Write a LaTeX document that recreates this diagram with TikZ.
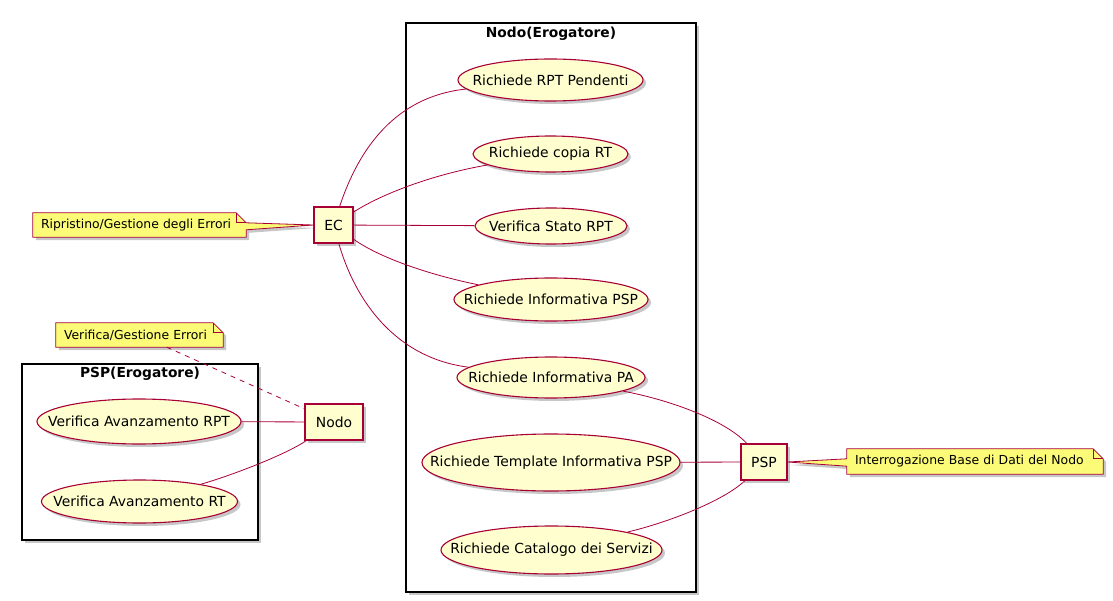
\documentclass[tikz,border=0pt]{standalone}
\usepackage{fontspec}
\setmainfont{DejaVu Sans}
\usetikzlibrary{shapes.geometric,shadows,backgrounds}
\definecolor{umlred}{HTML}{A80036}
\definecolor{umlfill}{HTML}{FEFECE}
\definecolor{notefill}{HTML}{FBFB77}
\newcommand\ucfont{\fontsize{13.9}{16}\selectfont}
\newcommand\notefont{\fontsize{12.4}{15}\selectfont}
\newcommand\pkgfont{\fontsize{13.8}{16}\selectfont\bfseries}
\newcommand\uctext[1]{\makebox[0pt][c]{#1}}
\begin{document}
\begin{tikzpicture}[x=1pt,y=-1pt,
  shad/.style={drop shadow={shadow xshift=3pt,shadow yshift=-3pt,fill=black,opacity=0.22}},
  package/.style={rectangle,draw=black,line width=1.3pt,fill=white,inner sep=0pt,shad},
  pkgtitle/.style={inner sep=0pt,font=\pkgfont},
  usecase/.style={ellipse,draw=umlred,fill=umlfill,line width=1.1pt,inner sep=0pt,font=\ucfont,shad},
  actorbox/.style={rectangle,draw=umlred,fill=umlfill,line width=1.1pt,inner sep=0pt,font=\ucfont,shad},
  notetext/.style={inner xsep=8pt,inner ysep=0pt,align=left,font=\notefont},
  noteshape/.style={draw=umlred,fill=notefill,line width=0.8pt,line join=miter,shad},
  notefold/.style={draw=umlred,line width=0.8pt},
  link/.style={draw=umlred,line width=0.8pt},
  dlink/.style={link,dash pattern=on 5pt off 5pt}
]
\useasboundingbox (0,0) rectangle (1113,601);

% packages
\node[package,minimum width=290pt,minimum height=569pt] (pkgnodo) at (551,307.5) {};
\node[pkgtitle] (tnodo) at (551,34) {Nodo(Erogatore)};
\node[package,minimum width=236pt,minimum height=176pt] (pkgpsp) at (140,452) {};
\node[pkgtitle] (tpsp) at (140,374) {PSP(Erogatore)};

% use cases
\node[usecase,minimum width=185pt,minimum height=42pt] (e1) at (550.5,80) {\uctext{Richiede RPT Pendenti}};
\node[usecase,minimum width=155pt,minimum height=36pt] (e2) at (550.5,154) {\uctext{Richiede copia RT}};
\node[usecase,minimum width=152pt,minimum height=36pt] (e3) at (551,226) {\uctext{Verifica Stato RPT}};
\node[usecase,minimum width=194pt,minimum height=43pt] (e4) at (551,299.5) {\uctext{Richiede Informativa PSP}};
\node[usecase,minimum width=188pt,minimum height=41pt] (e5) at (551,377.5) {\uctext{Richiede Informativa PA}};
\node[usecase,minimum width=258pt,minimum height=57pt] (e6) at (551,462.5) {\uctext{Richiede Template Informativa PSP}};
\node[usecase,minimum width=221pt,minimum height=48pt] (e7) at (551.5,550) {\uctext{Richiede Catalogo dei Servizi}};
\node[usecase,minimum width=204pt,minimum height=45pt] (v1) at (139,421.5) {\uctext{Verifica Avanzamento RPT}};
\node[usecase,minimum width=196pt,minimum height=43pt] (v2) at (139.5,501.5) {\uctext{Verifica Avanzamento RT}};

% actors
\node[actorbox,minimum width=39pt,minimum height=36pt] (ec) at (333.5,225) {EC};
\node[actorbox,minimum width=58pt,minimum height=36pt] (nodo) at (334,422) {Nodo};
\node[actorbox,minimum width=46pt,minimum height=36pt] (psp) at (764,462) {PSP};

% notes (text)
\node[notetext,minimum width=213pt,minimum height=24pt,text width=197pt] (n1) at (139.5,225) {Ripristino/Gestione degli Errori};
\node[notetext,minimum width=167pt,minimum height=24pt,text width=151pt] (n2) at (139.5,335) {Verifica/Gestione Errori};
\node[notetext,minimum width=256pt,minimum height=25pt,text width=240pt] (n3) at (975,461.5) {Interrogazione Base di Dati del Nodo};

% note shapes
\begin{scope}[on background layer]
\path[noteshape] (n1.north west) -- ([xshift=-10pt]n1.north east) -- ([yshift=-10pt]n1.north east)
  -- (ec.west) -- ([yshift=-17pt]n1.north east) -- (n1.south east) -- (n1.south west) -- cycle;
\draw[notefold] ([xshift=-10pt]n1.north east) -- ([xshift=-10pt,yshift=-10pt]n1.north east) -- ([yshift=-10pt]n1.north east);
\path[noteshape] (n2.north west) -- ([xshift=-10pt]n2.north east) -- ([yshift=-10pt]n2.north east)
  -- (n2.south east) -- (n2.south west) -- cycle;
\draw[notefold] ([xshift=-10pt]n2.north east) -- ([xshift=-10pt,yshift=-10pt]n2.north east) -- ([yshift=-10pt]n2.north east);
\path[noteshape] (n3.north west) -- ([xshift=-10pt]n3.north east) -- ([yshift=-10pt]n3.north east)
  -- (n3.south east) -- (n3.south west) -- ([yshift=8pt]n3.south west) -- (psp.east)
  -- ([yshift=-10pt]n3.north west) -- cycle;
\draw[notefold] ([xshift=-10pt]n3.north east) -- ([xshift=-10pt,yshift=-10pt]n3.north east) -- ([yshift=-10pt]n3.north east);
\end{scope}

% connectors
\draw[link] (ec) .. controls (365,130) and (410,95) .. (e1);
\draw[link] (ec) .. controls (380,195) and (430,175) .. (e2);
\draw[link] (ec) -- (e3);
\draw[link] (ec) .. controls (380,258) and (430,275) .. (e4);
\draw[link] (ec) .. controls (355,300) and (395,358) .. (e5);
\draw[link] (e5) .. controls (670,400) and (725,420) .. (psp);
\draw[link] (e6) -- (psp);
\draw[link] (e7) .. controls (670,522) and (725,500) .. (psp);
\draw[link] (v1) -- (nodo);
\draw[link] (v2) .. controls (230,476) and (285,455) .. (nodo);
\draw[dlink] (n2) -- (nodo);
\end{tikzpicture}
\end{document}
